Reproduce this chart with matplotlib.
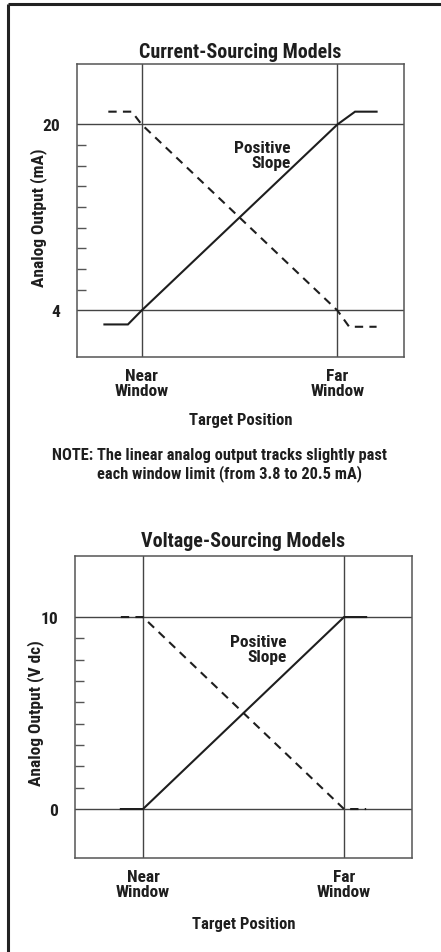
import numpy as np
import matplotlib.pyplot as plt
from matplotlib import font_manager
from matplotlib.lines import Line2D

# Narrow bold face close to the original typesetting
names = set(f.name for f in font_manager.fontManager.ttflist)
family = next((n for n in ['Roboto Condensed', 'PT Sans Narrow', 'Liberation Sans Narrow']
               if n in names), 'DejaVu Sans')
plt.rcParams['font.family'] = [family, 'DejaVu Sans']
plt.rcParams['font.weight'] = 'bold'

# Position along the target axis: 0 = near window, 1 = far window
window_ticks = [0, 1]
window_labels = ['Near\nWindow', 'Far\nWindow']

# Current-sourcing models (mA)
cur_pos_x = [-0.19, -0.07, 0, 1, 1.09, 1.20]
cur_pos_y = [2.8, 2.8, 4, 20, 21.1, 21.1]
cur_neg_x = [-0.17, -0.05, 0, 1, 1.06, 1.20]
cur_neg_y = [21.1, 21.1, 20, 4, 2.6, 2.6]
cur_major = [4, 20]
cur_minor = [4 + k * 16 / 9 for k in range(1, 9)]

# Voltage-sourcing models (V dc)
volt_pos_x = [-0.11, 0, 1, 1.11]
volt_pos_y = [0, 0, 10, 10]
volt_neg_x = [-0.11, 0, 1, 1.11]
volt_neg_y = [10, 10, 0, 0]
volt_major = [0, 10]
volt_minor = [k * 10 / 9 for k in range(1, 9)]

W, H = 441, 953
fig = plt.figure(figsize=(W / 100, H / 100), dpi=100)

grey = '#555555'
ink = '#1e1e1e'


def make_axes(left, right, top, bottom):
    return fig.add_axes([left / W, 1 - bottom / H, (right - left) / W, (bottom - top) / H])


def draw_panel(ax, title, ylabel, xlim, ylim, major, minor, px, py, nx, ny, slope_xy,
               title_pad, ylabel_y, xlabel_pad):
    ax.set_xlim(xlim)
    ax.set_ylim(ylim)
    for s in ax.spines.values():
        s.set_color(grey)
        s.set_linewidth(1.1)

    # window limits and output limits
    for x in window_ticks:
        ax.axvline(x, color='#444444', lw=1.0, zorder=1)
    for y in major:
        ax.axhline(y, color='#444444', lw=1.0, zorder=1)

    ax.plot(px, py, color=ink, lw=1.5, solid_joinstyle='miter', zorder=3)
    ax.plot(nx, ny, color=ink, lw=1.5, dashes=(4, 3), zorder=3)

    ax.text(slope_xy[0], slope_xy[1], 'Positive\nSlope', ha='right', va='center',
            fontsize=12.5, fontweight='bold', color=ink, linespacing=1.0)

    ax.set_xticks(window_ticks)
    ax.set_xticklabels(window_labels, fontsize=12.5, fontweight='bold',
                       color=ink, linespacing=1.0)
    ax.tick_params(axis='x', length=0, pad=8)

    ax.set_yticks(major)
    ax.set_yticklabels([str(v) for v in major], fontsize=12.5, fontweight='bold', color=ink)
    ax.set_yticks(minor, minor=True)
    ax.tick_params(axis='y', which='major', length=0, pad=12)
    ax.tick_params(axis='y', which='minor', direction='in', length=6.5,
                   width=1.0, color=grey)

    ax.set_title(title, fontsize=14.4, fontweight='bold', color=ink, pad=title_pad)
    ax.set_xlabel('Target Position', fontsize=12, fontweight='bold', color=ink,
                  labelpad=xlabel_pad)
    ax.set_ylabel(ylabel, fontsize=12.5, fontweight='bold', color=ink)
    ax.yaxis.set_label_coords(-0.092, ylabel_y)


ax1 = make_axes(77, 404, 65, 358)
draw_panel(ax1, 'Current-Sourcing Models', 'Analog Output (mA)', (-0.33, 1.34), (0, 25.2),
           cur_major, cur_minor, cur_pos_x, cur_pos_y, cur_neg_x, cur_neg_y, (0.76, 17.4),
           5, 0.478, 10)

ax2 = make_axes(75, 412, 557, 859)
draw_panel(ax2, 'Voltage-Sourcing Models', 'Analog Output (V dc)', (-0.338, 1.338), (-2.55, 13.18),
           volt_major, volt_minor, volt_pos_x, volt_pos_y, volt_neg_x, volt_neg_y, (0.716, 8.33),
           7, 0.483, 12)

# note below the first panel
fig.text(52 / W, 1 - 456 / H, 'NOTE: The linear analog output tracks slightly past',
         fontsize=11.8, fontweight='bold', color=ink, va='center', ha='left')
fig.text(97 / W, 1 - 474 / H, 'each window limit (from 3.8 to 20.5 mA)',
         fontsize=11.8, fontweight='bold', color=ink, va='center', ha='left')

# page frame: top and left rules
fig.add_artist(Line2D([7.5 / W, 1], [1 - 5 / H, 1 - 5 / H], color='#222222', lw=2.2,
                      solid_capstyle='butt'))
fig.add_artist(Line2D([7.5 / W, 7.5 / W], [0, 1 - 5 / H], color='#222222', lw=2.2,
                      solid_capstyle='butt'))

fig.savefig('out.png', dpi=100)
